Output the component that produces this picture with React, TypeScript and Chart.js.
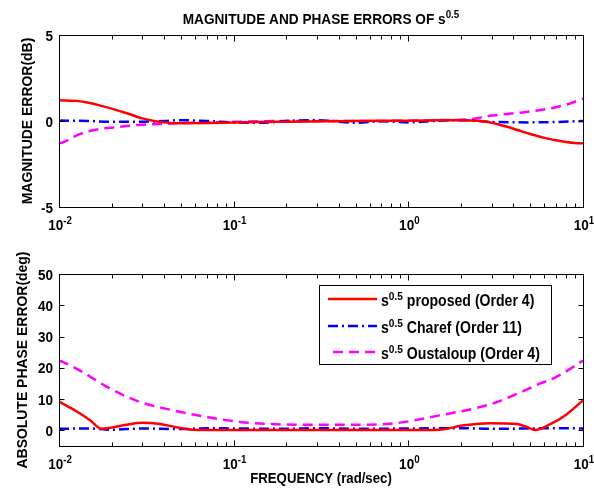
import React, { useEffect, useRef } from "react";
import { Chart, registerables } from "chart.js";

Chart.register(...registerables);

const FONT = '"Liberation Sans", Arial, Helvetica, sans-serif';
const RED = "#ff0000";
const BLUE = "#0000ff";
const MAGENTA = "#ff00ff";

// ---- text ----
const titleMain = "MAGNITUDE AND PHASE ERRORS OF s";
const supText = "0.5";
const magYLabel = "MAGNITUDE ERROR(dB)";
const phaseYLabel = "ABSOLUTE PHASE ERROR(deg)";
const xLabel = "FREQUENCY (rad/sec)";
const seriesNames = ["proposed (Order 4)", "Charef (Order 11)", "Oustaloup (Order 4)"];

// ---- ticks ----
const decadeExponents = [-2, -1, 0, 1];
const magTicks = [-5, 0, 5];
const phaseTicks = [0, 10, 20, 30, 40, 50];

// ---- magnitude error (dB) ----
const magFreqProposed = [0.01, 0.0125, 0.015, 0.0175, 0.02, 0.025, 0.03, 0.035, 0.04, 0.05, 0.07, 0.1, 0.2, 0.5, 1, 1.5, 2, 2.5, 3, 3.5, 4, 4.5, 5, 6, 7, 8, 9, 10];
const magProposed = [1.2, 1.17, 1.05, 0.88, 0.72, 0.42, 0.15, 0.0, -0.08, -0.13, -0.12, -0.08, -0.04, 0.0, 0.02, 0.04, 0.05, 0.02, -0.1, -0.28, -0.45, -0.62, -0.76, -0.98, -1.12, -1.22, -1.28, -1.3];

const magFreqCharef = [0.01, 0.015, 0.02, 0.03, 0.04, 0.05, 0.07, 0.1, 0.15, 0.2, 0.3, 0.5, 0.7, 1, 1.5, 2, 3, 5, 7, 10];
const magCharef = [0.03, 0.0, -0.05, -0.04, 0.0, 0.05, 0.0, -0.08, -0.1, 0.0, 0.05, -0.1, -0.02, -0.08, 0.02, 0.05, -0.05, -0.08, -0.06, 0.0];

const magFreqOustaloup = [0.01, 0.0105, 0.0132, 0.0172, 0.0214, 0.029, 0.041, 0.06, 0.1, 0.2, 0.5, 1, 1.5, 2.25, 2.93, 4.5, 6.5, 8, 9.6, 10];
const magOustaloup = [-1.3, -1.25, -0.75, -0.46, -0.36, -0.22, -0.16, -0.1, -0.05, 0.0, 0.0, 0.02, 0.05, 0.1, 0.3, 0.5, 0.73, 0.95, 1.23, 1.3];

// ---- absolute phase error (deg) ----
const phFreqProposed = [0.01, 0.012, 0.0132, 0.015, 0.0175, 0.0196, 0.0244, 0.03, 0.038, 0.047, 0.059, 0.08, 0.1, 0.2, 0.5, 1, 1.5, 2.08, 2.93, 4.2, 4.8, 5.3, 6.46, 8.05, 10];
const phProposed = [9.2, 6.8, 5.4, 3.3, 0.5, 0.8, 1.8, 2.4, 2.0, 1.0, 0.2, 0.1, 0.1, 0.1, 0.1, 0.1, 0.2, 1.6, 2.3, 2.0, 1.0, 0.1, 1.9, 5.1, 9.6];

const phFreqCharef = [0.01, 0.015, 0.02, 0.03, 0.05, 0.07, 0.1, 0.2, 0.3, 0.5, 1, 2, 3, 5, 7, 10];
const phCharef = [0.5, 0.6, 0.2, 0.6, 0.4, 0.7, 0.6, 0.5, 0.7, 0.5, 0.6, 0.7, 0.5, 0.6, 0.7, 0.6];

const phFreqOustaloup = [0.01, 0.0105, 0.014, 0.0188, 0.029, 0.045, 0.07, 0.109, 0.19, 0.3, 0.5, 0.785, 1.51, 2.93, 4.2, 5.7, 7.0, 10];
const phOustaloup = [22.3, 21.9, 18.3, 13.9, 9.1, 6.4, 4.3, 2.7, 1.9, 1.8, 1.8, 2.1, 4.8, 8.3, 11.7, 15, 17, 22.3];

type Part = { t: string; sup?: boolean };

function drawRich(
  ctx: CanvasRenderingContext2D,
  parts: Part[],
  x: number,
  y: number,
  align: "left" | "center" | "right",
  size: number,
  sx: number
) {
  const supSize = size * 0.72;
  const ws = parts.map((p) => {
    ctx.font = `bold ${p.sup ? supSize : size}px ${FONT}`;
    return ctx.measureText(p.t).width * sx;
  });
  const total = ws.reduce((a, b) => a + b, 0);
  let cx = align === "left" ? x : align === "center" ? x - total / 2 : x - total;
  ctx.textAlign = "left";
  ctx.textBaseline = "alphabetic";
  ctx.fillStyle = "#000";
  parts.forEach((p, i) => {
    ctx.font = `bold ${p.sup ? supSize : size}px ${FONT}`;
    ctx.save();
    ctx.translate(cx, p.sup ? y - size * 0.4 : y);
    ctx.scale(sx, 1);
    ctx.fillText(p.t, 0, 0);
    ctx.restore();
    cx += ws[i];
  });
}

type FrameCfg = {
  yTicks: number[];
  yTitle: string;
  yTitleX: number;
  title?: boolean;
  xTitle?: boolean;
  legend?: boolean;
};

function makeFramePlugin(cfg: FrameCfg) {
  return {
    id: "matlabFrame",
    afterDraw(chart: any) {
      const ctx: CanvasRenderingContext2D = chart.ctx;
      const { left, right, top, bottom } = chart.chartArea;
      const xs = chart.scales.x;
      const ys = chart.scales.y;
      const L = Math.round(left) + 0.5;
      const R = Math.round(right) + 0.5;
      const T = Math.round(top) + 0.5;
      const B = Math.round(bottom) + 0.5;
      ctx.save();
      ctx.strokeStyle = "#000";
      ctx.lineWidth = 1;
      ctx.setLineDash([]);
      ctx.strokeRect(L, T, R - L, B - T);

      // x ticks (inward, top and bottom)
      ctx.beginPath();
      decadeExponents.forEach((e) => {
        for (let m = 1; m <= 9; m++) {
          const v = m * Math.pow(10, e);
          if (v > 10.0001) break;
          const px = Math.round(xs.getPixelForValue(v)) + 0.5;
          const len = m === 1 ? 6 : 4;
          ctx.moveTo(px, B);
          ctx.lineTo(px, B - len);
          ctx.moveTo(px, T);
          ctx.lineTo(px, T + len);
        }
      });
      // y ticks (inward, left and right)
      cfg.yTicks.forEach((v) => {
        const py = Math.round(ys.getPixelForValue(v)) + 0.5;
        ctx.moveTo(L, py);
        ctx.lineTo(L + 5, py);
        ctx.moveTo(R, py);
        ctx.lineTo(R - 5, py);
      });
      ctx.stroke();

      const FS = 15;
      const SX = 0.9;
      // x tick labels
      decadeExponents.forEach((e) => {
        const px = xs.getPixelForValue(Math.pow(10, e));
        drawRich(ctx, [{ t: "10" }, { t: String(e), sup: true }], px + 1, bottom + 23, "center", FS, SX);
      });
      // y tick labels
      cfg.yTicks.forEach((v) => {
        const py = ys.getPixelForValue(v);
        drawRich(ctx, [{ t: String(v) }], left - 6, py + 5.5, "right", FS, SX);
      });
      // y title
      ctx.save();
      ctx.translate(cfg.yTitleX, (top + bottom) / 2);
      ctx.rotate(-Math.PI / 2);
      drawRich(ctx, [{ t: cfg.yTitle }], 0, 5.5, "center", 15.5, 0.9);
      ctx.restore();

      if (cfg.title) {
        drawRich(ctx, [{ t: titleMain }, { t: supText, sup: true }], (left + right) / 2, 24, "center", 15.5, 0.88);
      }
      if (cfg.xTitle) {
        drawRich(ctx, [{ t: xLabel }], (left + right) / 2, bottom + 37, "center", 15, 0.88);
      }
      if (cfg.legend) {
        const bx = Math.round(left + 260) + 0.5;
        const by = Math.round(top + 11) + 0.5;
        const bw = 232;
        const bh = 79;
        ctx.fillStyle = "#fff";
        ctx.fillRect(bx, by, bw, bh);
        ctx.strokeStyle = "#000";
        ctx.lineWidth = 1;
        ctx.strokeRect(bx, by, bw, bh);
        const rows = [
          { color: RED, dash: [] as number[], name: seriesNames[0], dy: 25, x0: 328 },
          { color: BLUE, dash: [10, 4, 2, 4], name: seriesNames[1], dy: 52, x0: 328 },
          { color: MAGENTA, dash: [10, 6], name: seriesNames[2], dy: 78, x0: 333 },
        ];
        rows.forEach((r) => {
          const ly = top + r.dy;
          ctx.save();
          ctx.strokeStyle = r.color;
          ctx.lineWidth = 2.5;
          ctx.setLineDash(r.dash);
          ctx.beginPath();
          ctx.moveTo(r.x0, ly);
          ctx.lineTo(377, ly);
          ctx.stroke();
          ctx.restore();
          drawRich(ctx, [{ t: "s" }, { t: supText, sup: true }, { t: " " + r.name }], 381, ly + 7, "left", 16, 0.88);
        });
      }
      ctx.restore();
    },
  };
}

function pts(xs: number[], ys: number[]) {
  return xs.map((x, i) => ({ x, y: ys[i] }));
}

function makeConfig(
  datasets: { data: { x: number; y: number }[]; color: string; dash: number[] }[],
  yMin: number,
  yMax: number,
  padding: { left: number; right: number; top: number; bottom: number },
  plugin: any
): any {
  return {
    type: "line",
    data: {
      datasets: datasets.map((d) => ({
        data: d.data,
        borderColor: d.color,
        backgroundColor: d.color,
        borderWidth: 2.5,
        borderDash: d.dash,
        pointRadius: 0,
        fill: false,
        tension: 0.4,
        cubicInterpolationMode: "monotone",
      })),
    },
    options: {
      responsive: false,
      animation: false,
      devicePixelRatio: 1,
      layout: { padding },
      plugins: { legend: { display: false }, tooltip: { enabled: false }, title: { display: false } },
      scales: {
        x: {
          type: "logarithmic",
          min: 0.01,
          max: 10,
          grid: { display: false },
          border: { display: false },
          ticks: { display: false },
          afterFit: (s: any) => {
            s.height = 0;
          },
        },
        y: {
          type: "linear",
          min: yMin,
          max: yMax,
          grid: { display: false },
          border: { display: false },
          ticks: { display: false },
          afterFit: (s: any) => {
            s.width = 0;
          },
        },
      },
    },
    plugins: [plugin],
  };
}

export default function App() {
  const topRef = useRef<HTMLCanvasElement>(null);
  const botRef = useRef<HTMLCanvasElement>(null);

  useEffect(() => {
    const top = new Chart(
      topRef.current as HTMLCanvasElement,
      makeConfig(
        [
          { data: pts(magFreqProposed, magProposed), color: RED, dash: [] },
          { data: pts(magFreqCharef, magCharef), color: BLUE, dash: [10, 4, 2, 4] },
          { data: pts(magFreqOustaloup, magOustaloup), color: MAGENTA, dash: [10, 6] },
        ],
        -5,
        5,
        { left: 59, right: 11, top: 35, bottom: 43 },
        makeFramePlugin({ yTicks: magTicks, yTitle: magYLabel, yTitleX: 26, title: true })
      )
    );
    const bot = new Chart(
      botRef.current as HTMLCanvasElement,
      makeConfig(
        [
          { data: pts(phFreqProposed, phProposed), color: RED, dash: [] },
          { data: pts(phFreqCharef, phCharef), color: BLUE, dash: [10, 4, 2, 4] },
          { data: pts(phFreqOustaloup, phOustaloup), color: MAGENTA, dash: [10, 6] },
        ],
        -5,
        50,
        { left: 59, right: 11, top: 24, bottom: 47 },
        makeFramePlugin({ yTicks: phaseTicks, yTitle: phaseYLabel, yTitleX: 21, xTitle: true, legend: true })
      )
    );
    return () => {
      top.destroy();
      bot.destroy();
    };
  }, []);

  return (
    <div style={{ position: "absolute", left: 0, top: 0, width: 594, height: 493, background: "#fff" }}>
      <canvas ref={topRef} width={594} height={250} style={{ position: "absolute", left: 0, top: 0, width: 594, height: 250 }} />
      <canvas ref={botRef} width={594} height={243} style={{ position: "absolute", left: 0, top: 250, width: 594, height: 243 }} />
    </div>
  );
}
